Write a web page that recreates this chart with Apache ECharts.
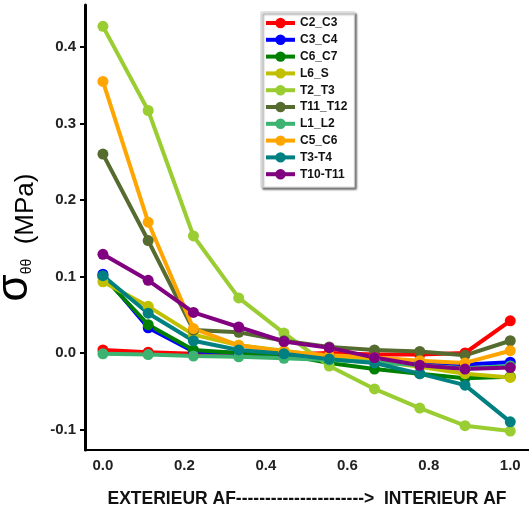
<!DOCTYPE html>
<html>
<head>
<meta charset="utf-8">
<script src="https://cdn.jsdelivr.net/npm/echarts@6/dist/echarts.min.js"></script>
<style>html,body{margin:0;padding:0;background:#fff}#c{width:529px;height:505px}</style>
</head>
<body>
<div id="c"></div>
<script>
const xValues = [0, 1/9, 2/9, 3/9, 4/9, 5/9, 6/9, 7/9, 8/9, 1];
const xTicks = [0, 0.2, 0.4, 0.6, 0.8, 1.0];
const yTicks = [-0.1, 0, 0.1, 0.2, 0.3, 0.4];
const seriesNames = ['C2_C3','C3_C4','C6_C7','L6_S','T2_T3','T11_T12','L1_L2','C5_C6','T3-T4','T10-T11'];
const seriesColors = ['#ff0000','#0000ff','#008000','#c0c000','#9acd32','#556b2f','#3cb371','#ffa500','#008080','#800080'];
const C2_C3   = [0.004, 0.001, -0.001, -0.001, -0.002, 0.000, -0.002, -0.002, 0.000, 0.042];
const C3_C4   = [0.103, 0.033, 0.002, 0.000, -0.002, -0.005, -0.008, -0.012, -0.015, -0.012];
const C6_C7   = [0.100, 0.037, 0.004, 0.000, -0.002, -0.013, -0.021, -0.027, -0.033, -0.031];
const L6_S    = [0.093, 0.061, 0.024, 0.010, 0.003, -0.005, -0.010, -0.018, -0.027, -0.032];
const T2_T3   = [0.427, 0.317, 0.153, 0.072, 0.026, -0.017, -0.047, -0.072, -0.095, -0.102];
const T11_T12 = [0.260, 0.147, 0.030, 0.027, 0.016, 0.008, 0.004, 0.002, -0.003, 0.016];
const L1_L2   = [-0.001, -0.002, -0.004, -0.005, -0.007, -0.009, -0.012, -0.016, -0.020, -0.017];
const C5_C6   = [0.355, 0.171, 0.032, 0.010, 0.002, -0.003, -0.006, -0.010, -0.013, 0.003];
const T3_T4   = [0.101, 0.052, 0.016, 0.004, -0.001, -0.008, -0.013, -0.027, -0.042, -0.090];
const T10_T11 = [0.129, 0.095, 0.053, 0.034, 0.015, 0.007, -0.006, -0.016, -0.021, -0.019];
const allValues = [C2_C3, C3_C4, C6_C7, L6_S, T2_T3, T11_T12, L1_L2, C5_C6, T3_T4, T10_T11];
const xAxisTitle = 'EXTERIEUR AF----------------------> \u00a0INTERIEUR AF';

const FONT = '"Liberation Sans", Arial, sans-serif';
const chart = echarts.init(document.getElementById('c'), null, {renderer: 'canvas'});
chart.setOption({
  animation: false,
  backgroundColor: '#ffffff',
  grid: {left: 85, right: 0, top: 5, bottom: 55, containLabel: false, outerBoundsMode: 'none'},
  xAxis: {
    type: 'value', min: -0.044, max: 1.046,
    splitLine: {show: false},
    axisLine: {show: true, onZero: false, lineStyle: {color: '#000', width: 2}},
    axisTick: {show: false},
    axisLabel: {customValues: xTicks, formatter: v => v.toFixed(1), color: '#222', fontWeight: 'bold', fontSize: 15, fontFamily: FONT, margin: 8},
    name: xAxisTitle, nameLocation: 'middle', nameGap: 40,
    nameTextStyle: {color: '#111', fontWeight: 'bold', fontSize: 17.5, fontFamily: FONT}
  },
  yAxis: {
    type: 'value', min: -0.1268, max: 0.4549,
    splitLine: {show: false},
    axisLine: {show: true, onZero: false, lineStyle: {color: '#000', width: 3}},
    axisTick: {show: true, customValues: yTicks, length: 5, lineStyle: {color: '#000', width: 2}},
    axisLabel: {customValues: yTicks, formatter: v => v.toFixed(1), color: '#222', fontWeight: 'bold', fontSize: 15, fontFamily: FONT, margin: 9},
    name: '{s|σ}{sub|θθ}{m|  (MPa)}', nameLocation: 'middle', nameRotate: 90, nameGap: 30,
    nameTextStyle: {
      color: '#000', fontFamily: FONT,
      rich: {
        s: {fontSize: 44, fontFamily: FONT, color: '#000', verticalAlign: 'bottom', padding: [0,0,6,0]},
        sub: {fontSize: 14, fontFamily: FONT, color: '#000', verticalAlign: 'bottom', padding: [0,0,9,0]},
        m: {fontSize: 26, fontFamily: FONT, color: '#000', verticalAlign: 'bottom', padding: [0,20,4,0]}
      }
    }
  },
  legend: {
    orient: 'vertical', left: 261, top: 12,
    padding: [5, 7, 7, 3],
    itemWidth: 29, itemHeight: 13, itemGap: 4.8,
    backgroundColor: '#fff', borderColor: '#cccccc', borderWidth: 1,
    shadowColor: 'rgba(0,0,0,0.6)', shadowBlur: 2, shadowOffsetX: 2, shadowOffsetY: 2,
    lineStyle: {width: 4},
    data: seriesNames,
    textStyle: {fontWeight: 'bold', fontSize: 12, fontFamily: FONT, color: '#111'}
  },
  series: seriesNames.map((n, i) => ({
    name: n, type: 'line',
    data: xValues.map((x, j) => [x, allValues[i][j]]),
    symbol: 'circle', symbolSize: 11, showSymbol: true,
    color: seriesColors[i],
    lineStyle: {width: 4, color: seriesColors[i]},
    itemStyle: {color: seriesColors[i]},
    emphasis: {disabled: true}
  }))
});
</script>
</body>
</html>
